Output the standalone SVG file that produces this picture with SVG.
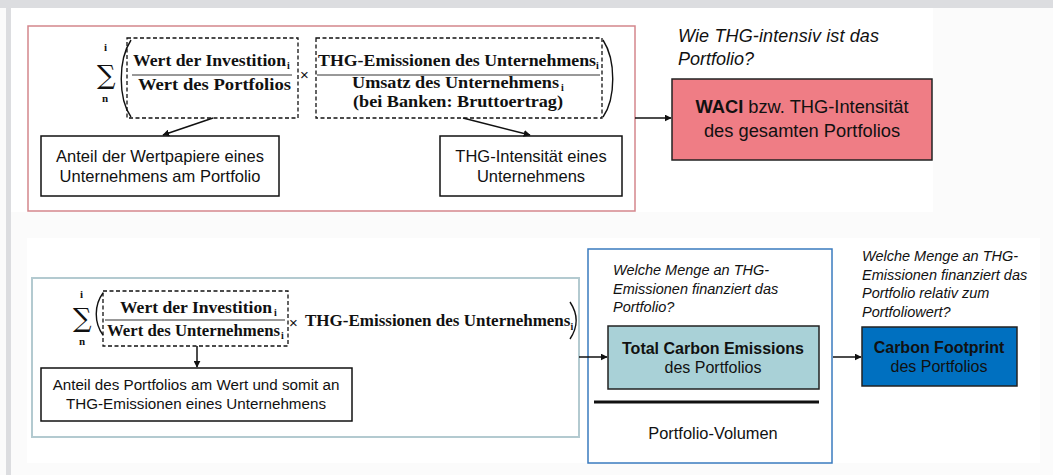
<svg xmlns="http://www.w3.org/2000/svg" width="1053" height="475" viewBox="0 0 1053 475">
  <defs>
    <marker id="arrow" viewBox="0 0 10 10" refX="9" refY="5" markerWidth="7" markerHeight="7" markerUnits="userSpaceOnUse" orient="auto">
      <path d="M0,0 L10,5 L0,10 z" fill="#111"/>
    </marker>
    <style>
      .sans { font-family: "Liberation Sans", Arial, sans-serif; fill: #111; }
      .lbl { font-size: 16.5px; }
      .q { font-style: italic; }
      .math { font-family: "Liberation Serif", "DejaVu Serif", serif; font-weight: bold; font-size: 17px; fill: #111; }
      .sub { font-family: "Liberation Serif", "DejaVu Serif", serif; font-weight: bold; font-size: 10px; fill: #111; }
      .lim { font-family: "Liberation Serif", "DejaVu Serif", serif; font-weight: bold; font-size: 11px; fill: #111; }
      .sigma { font-family: "DejaVu Serif", "Liberation Serif", serif; font-size: 26px; fill: #111; }
      .dash { fill: none; stroke: #111; stroke-width: 1.3; stroke-dasharray: 4 2.5; }
      .box { fill: #fff; stroke: #111; stroke-width: 1.5; }
      .rule { stroke: #333; stroke-width: 1; }
      .paren { fill: none; stroke: #111; stroke-width: 1.4; }
      .conn { fill: none; stroke: #111; stroke-width: 1.5; marker-end: url(#arrow); }
    </style>
  </defs>

  <!-- page background -->
  <rect x="0" y="0" width="1053" height="475" fill="#fbfbfb"/>
  <rect x="0" y="0" width="1053" height="8" fill="#dcdde0"/>
  <rect x="6" y="8" width="5" height="467" fill="#dcdde0"/>
  <rect x="11" y="8" width="922" height="204" fill="#ffffff"/>
  <rect x="27" y="238" width="1013" height="225" fill="#ffffff"/>

  <!-- WACI panel -->
  <g id="waci-formula">
    <rect x="28" y="26" width="607" height="185" fill="none" stroke="#d4868c" stroke-width="1.5"/>
    <text class="lim" x="104" y="51">i</text>
    <text class="sigma" x="97" y="84">∑</text>
    <text class="lim" x="102" y="102">n</text>
    <path class="paren" d="M131,40 C118,60 118,98 131,117"/>
    <g id="share-term">
      <rect class="dash" x="127" y="38" width="171" height="80"/>
      <text class="math" x="133" y="66" textLength="153" lengthAdjust="spacingAndGlyphs">Wert der Investition</text>
      <text class="sub" x="287" y="69">i</text>
      <line class="rule" x1="132" y1="75" x2="292" y2="75"/>
      <text class="math" x="138" y="90" textLength="153" lengthAdjust="spacingAndGlyphs">Wert des Portfolios</text>
    </g>
    <text class="sans" x="300" y="80" font-size="15">×</text>
    <g id="intensity-term">
      <rect class="dash" x="316" y="38" width="286" height="80"/>
      <text class="math" x="318" y="66" textLength="278" lengthAdjust="spacingAndGlyphs">THG-Emissionen des Unternehmens</text>
      <text class="sub" x="596" y="69">i</text>
      <line class="rule" x1="317" y1="75" x2="600" y2="75"/>
      <text class="math" x="352" y="88" textLength="207" lengthAdjust="spacingAndGlyphs">Umsatz des Unternehmens</text>
      <text class="sub" x="561" y="91">i</text>
      <text class="math" x="353" y="107" textLength="210" lengthAdjust="spacingAndGlyphs">(bei Banken: Bruttoertrag)</text>
    </g>
    <path class="paren" d="M603,40 C616,60 616,98 603,117"/>
  </g>

  <g id="share-label">
    <rect class="box" x="41" y="136" width="238" height="60"/>
    <text class="sans lbl" x="160" y="162" text-anchor="middle">Anteil der Wertpapiere eines</text>
    <text class="sans lbl" x="160" y="182" text-anchor="middle">Unternehmens am Portfolio</text>
  </g>

  <g id="intensity-label">
    <rect class="box" x="440" y="136" width="182" height="60"/>
    <text class="sans lbl" x="531" y="162" text-anchor="middle">THG-Intensität eines</text>
    <text class="sans lbl" x="531" y="182" text-anchor="middle">Unternehmens</text>
  </g>

  <g id="waci-question">
    <text class="sans q" x="678" y="42" font-size="18" textLength="201" lengthAdjust="spacing">Wie THG-intensiv ist das</text>
    <text class="sans q" x="678" y="65" font-size="18">Portfolio?</text>
  </g>

  <g id="waci">
    <rect x="672" y="79" width="260" height="81" fill="#ef7d85" stroke="#222" stroke-width="1.5"/>
    <text class="sans" x="802" y="113" text-anchor="middle" font-size="18.3"><tspan font-weight="bold">WACI</tspan> bzw. THG-Intensität</text>
    <text class="sans" x="802" y="137" text-anchor="middle" font-size="18.3">des gesamten Portfolios</text>
  </g>

  <!-- Carbon emissions panel -->
  <g id="tce-formula">
    <rect x="32" y="278" width="547" height="159" fill="none" stroke="#b3cad0" stroke-width="2"/>
    <text class="lim" x="80" y="298">i</text>
    <text class="sigma" x="73" y="327" font-size="25">∑</text>
    <text class="lim" x="79" y="345">n</text>
    <path class="paren" d="M103,293 C94,305 94,323 103,335"/>
    <g id="ownership-term">
      <rect class="dash" x="103" y="291" width="185" height="55"/>
      <text class="math" x="120" y="313" textLength="152" lengthAdjust="spacingAndGlyphs">Wert der Investition</text>
      <text class="sub" x="274" y="316">i</text>
      <line class="rule" x1="105" y1="320" x2="285" y2="320"/>
      <text class="math" x="107" y="336" textLength="173" lengthAdjust="spacingAndGlyphs">Wert des Unternehmens</text>
      <text class="sub" x="281" y="339">i</text>
    </g>
    <text class="sans" x="289" y="328" font-size="15">×</text>
    <text class="math" x="305" y="326" font-size="15.5">THG-Emissionen des Unternehmens<tspan dy="3.5" font-size="10">i</tspan></text>
    <path class="paren" d="M570,302 C578,314 578,327 570,339"/>
  </g>

  <g id="ownership-label">
    <rect class="box" x="41" y="368" width="311" height="53"/>
    <text class="sans" x="196" y="390" text-anchor="middle" font-size="15.2">Anteil des Portfolios am Wert und somit an</text>
    <text class="sans" x="196" y="409" text-anchor="middle" font-size="15.2">THG-Emissionen eines Unternehmens</text>
  </g>

  <g id="tce-panel">
    <rect x="588" y="249" width="244" height="214" fill="#fff" stroke="#3a7bbf" stroke-width="1.5"/>
    <text class="sans q" x="613" y="275" font-size="14.5">Welche Menge an THG-</text>
    <text class="sans q" x="613" y="294" font-size="14.5">Emissionen finanziert das</text>
    <text class="sans q" x="613" y="312" font-size="14.5">Portfolio?</text>
    <g id="tce">
      <rect x="608" y="326" width="211" height="63" fill="#a9d1d7" stroke="#222" stroke-width="1.5"/>
      <text class="sans" x="713" y="354" text-anchor="middle" font-size="16" font-weight="bold">Total Carbon Emissions</text>
      <text class="sans" x="713" y="373" text-anchor="middle" font-size="16">des Portfolios</text>
    </g>
    <line x1="594" y1="402" x2="819" y2="402" stroke="#111" stroke-width="3"/>
    <text class="sans" x="713" y="439" text-anchor="middle" font-size="16.4">Portfolio-Volumen</text>
  </g>

  <g id="cf-question">
    <text class="sans q" x="862" y="261" font-size="14.5">Welche Menge an THG-</text>
    <text class="sans q" x="862" y="280" font-size="14.5">Emissionen finanziert das</text>
    <text class="sans q" x="862" y="298" font-size="14.5">Portfolio relativ zum</text>
    <text class="sans q" x="862" y="317" font-size="14.5">Portfoliowert?</text>
  </g>

  <g id="carbon-footprint">
    <rect x="862" y="327" width="155" height="59" fill="#0070c0" stroke="#222" stroke-width="1.5"/>
    <text class="sans" x="939" y="353" text-anchor="middle" font-size="16" font-weight="bold">Carbon Footprint</text>
    <text class="sans" x="939" y="372" text-anchor="middle" font-size="16">des Portfolios</text>
  </g>

  <!-- connectors -->
  <g id="connectors">
    <line class="conn" x1="213" y1="118" x2="163" y2="135"/>
    <line class="conn" x1="463" y1="118" x2="530" y2="135"/>
    <line class="conn" x1="635" y1="118" x2="671" y2="118"/>
    <line class="conn" x1="197" y1="346" x2="197" y2="367"/>
    <line class="conn" x1="579" y1="357" x2="607" y2="357"/>
    <line class="conn" x1="833" y1="357" x2="861" y2="357"/>
  </g>
</svg>
